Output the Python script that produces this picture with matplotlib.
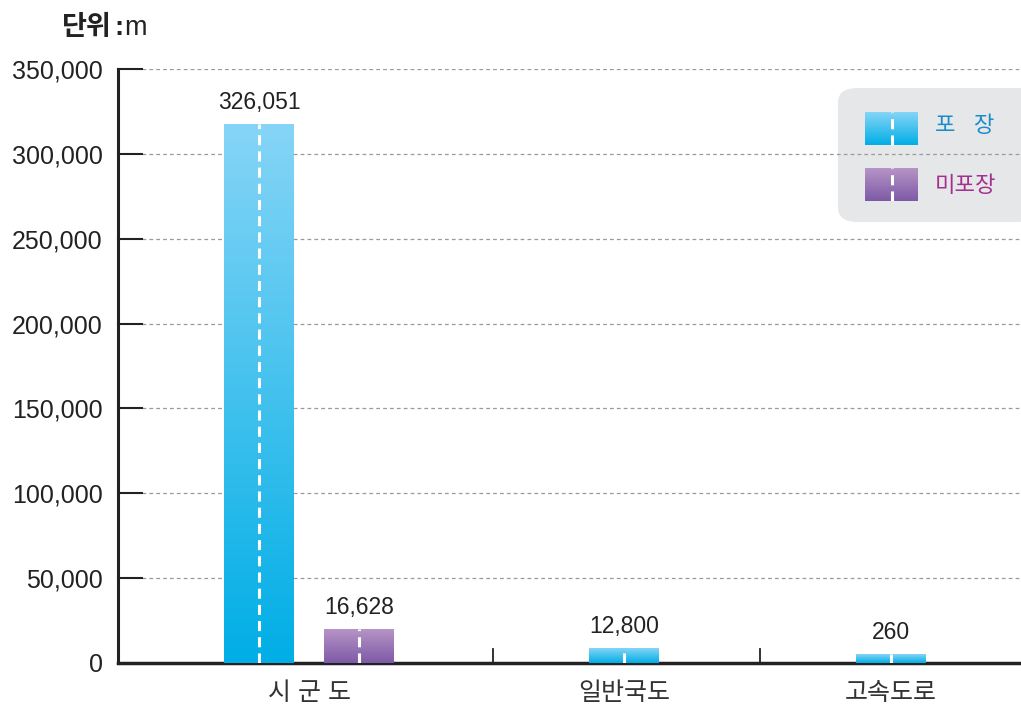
import matplotlib
matplotlib.use('Agg')
import matplotlib.pyplot as plt
import numpy as np
from matplotlib.colors import LinearSegmentedColormap
from matplotlib.patches import FancyBboxPatch

'''Road length by type, paved vs unpaved (bar heights as drawn in the source).'''

plt.rcParams['font.family'] = ['Liberation Sans', 'Noto Sans CJK KR', 'DejaVu Sans']

categories = ['시 군 도', '일반국도', '고속도로']
paved_heights = [317500, 8800, 5300]
paved_labels = ['326,051', '12,800', '260']
unpaved_heights = [20000]
unpaved_labels = ['16,628']
legend_names = ['포   장', '미포장']
yticks = [0, 50000, 100000, 150000, 200000, 250000, 300000, 350000]

blue_map = LinearSegmentedColormap.from_list('blue', ['#00aee6', '#86d5f6'])
purple_map = LinearSegmentedColormap.from_list('purple', ['#7d5aa6', '#b794c6'])

W, H = 1021, 709
fig = plt.figure(figsize=(10.21, 7.09), dpi=100)
ax = fig.add_axes([118 / W, 1 - 663 / H, 1 - 118 / W, (663 - 69) / H])

# x units are pixels measured from the y axis
group_centers = [191, 506, 773]
paved_x = [141, 506, 773]
unpaved_x = [241]
separators = [375, 642]
bar_w = 70


def gradient_bar(a, x, y0, y1, cmap):
    grad = np.linspace(0, 1, 256).reshape(-1, 1)
    a.imshow(grad, extent=[x - bar_w / 2, x + bar_w / 2, y0, y1], origin='lower',
             aspect='auto', cmap=cmap, zorder=3)
    a.plot([x, x], [y0, y1], color='white', lw=2.2, dashes=(3.3, 2.0), zorder=4)


for x, h, lab in zip(paved_x, paved_heights, paved_labels):
    gradient_bar(ax, x, 0, h, blue_map)
    ax.annotate(lab, (x, h), xytext=(0, 7), textcoords='offset points',
                ha='center', va='bottom', fontsize=16.5, color='#222222')
for x, h, lab in zip(unpaved_x, unpaved_heights, unpaved_labels):
    gradient_bar(ax, x, 0, h, purple_map)
    ax.annotate(lab, (x, h), xytext=(0, 7), textcoords='offset points',
                ha='center', va='bottom', fontsize=16.5, color='#222222')

ax.set_xlim(0, 903)
ax.set_ylim(0, 350000)

for y in yticks[1:]:
    ax.plot([24, 903], [y, y], color='#9a9a9a', lw=0.9, ls=(0, (3, 2.5)), zorder=1)
    ax.plot([0, 24], [y, y], color='#222222', lw=1.5, zorder=2, clip_on=False)

for s in separators:
    ax.plot([s, s], [0, 8000], color='#222222', lw=1.3, zorder=2)

ax.set_yticks(yticks)
ax.set_yticklabels(['{:,}'.format(v) for v in yticks], fontsize=18, color='#222222')
ax.tick_params(axis='y', length=0, pad=11)
ax.set_xticks(group_centers)
ax.set_xticklabels(categories, fontsize=18, color='#333333')
ax.tick_params(axis='x', length=0, pad=13)

for side in ['top', 'right']:
    ax.spines[side].set_visible(False)
ax.spines['left'].set_linewidth(2.2)
ax.spines['left'].set_color('#222222')
ax.spines['bottom'].set_linewidth(2.5)
ax.spines['bottom'].set_color('#222222')
ax.patch.set_alpha(0)

unit = fig.text(62 / W, 1 - 28 / H, '단위', fontsize=19.5, fontweight='bold',
                color='#222222', va='center', ha='left')
ax.annotate(':', xy=(1, 0.5), xycoords=unit, xytext=(2, 0), textcoords='offset points',
            va='center', ha='left', fontsize=19.5, fontweight='bold', color='#222222',
            annotation_clip=False)
ax.annotate('m', xy=(1, 0.5), xycoords=unit, xytext=(9, 0), textcoords='offset points',
            va='center', ha='left', fontsize=19.5, color='#222222', annotation_clip=False)

# legend box, runs off the right edge
box = FancyBboxPatch((838 / W, 1 - 222 / H), 200 / W, 134 / H,
                     boxstyle='round,pad=0,rounding_size=0.02',
                     transform=fig.transFigure, facecolor='#e6e7e9',
                     edgecolor='none', zorder=-1)
fig.patches.append(box)

lax = fig.add_axes([865 / W, 1 - 201 / H, 53 / W, 89 / H], zorder=2)
lax.patch.set_alpha(0)
lax.axis('off')
bar_w = 53
gradient_bar(lax, 26.5, 56, 89, blue_map)
gradient_bar(lax, 26.5, 0, 33, purple_map)
lax.set_xlim(0, 53)
lax.set_ylim(0, 89)

fig.text(935 / W, 1 - 127 / H, legend_names[0], fontsize=16, color='#1a8cc8', va='center')
fig.text(935 / W, 1 - 186 / H, legend_names[1], fontsize=16, color='#a3308e', va='center')

fig.savefig('out.png', dpi=100)
